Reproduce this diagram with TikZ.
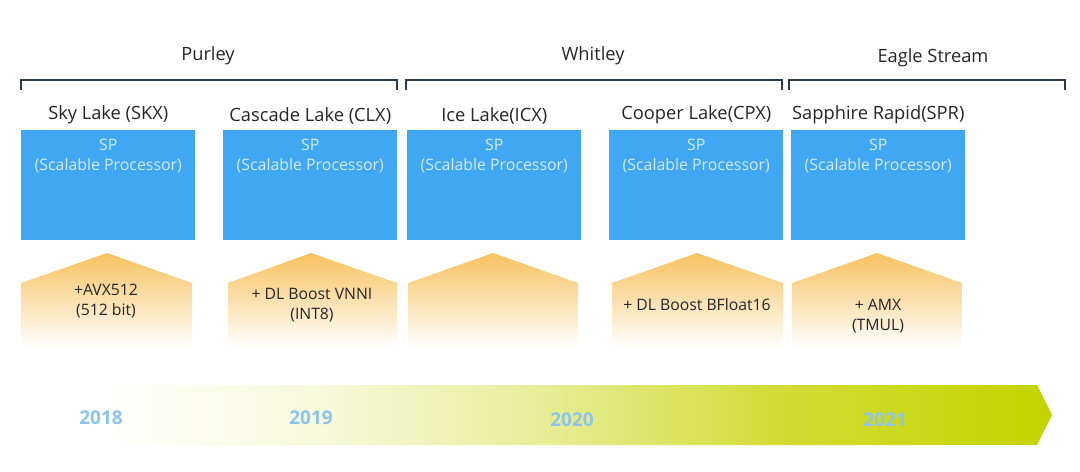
\documentclass[tikz,border=0pt]{standalone}
\usepackage{fontspec}
\setmainfont{Open Sans}
\usepackage{tikz}
\usetikzlibrary{positioning}
\usetikzlibrary{calc}
\definecolor{spblue}{RGB}{64,168,242}
\definecolor{sptxt}{RGB}{210,234,255}
\definecolor{brgray}{RGB}{45,58,72}
\definecolor{penta}{RGB}{248,194,96}
\definecolor{timegreen}{RGB}{197,211,0}
\definecolor{yearblue}{RGB}{140,196,240}
\pgfdeclarehorizontalshading{timeline}{100bp}{color(0bp)=(white); color(25bp)=(white);
   color(29bp)=(white); color(40bp)=(timegreen!15); color(50bp)=(timegreen!40);
   color(62bp)=(timegreen!80); color(75bp)=(timegreen); color(100bp)=(timegreen)}
\tikzset{bracket/.style={draw=brgray, line width=1.1pt}}
\tikzset{plat/.style={font=\fontsize{13}{15}\selectfont, text=black!85}}
\tikzset{cpu/.style={font=\fontsize{13}{15}\selectfont, text=black!85, inner sep=1pt}}
\tikzset{spbox/.style={fill=spblue, minimum width=4.35cm, minimum height=2.75cm, anchor=north west, inner sep=0pt}}
\tikzset{sptext/.style={font=\fontsize{11.3}{14.2}\selectfont, text=sptxt, align=center, inner sep=0pt}}
\tikzset{feat/.style={font=\fontsize{11.2}{14.5}\selectfont, text=black!85, align=center}}
\tikzset{year/.style={font=\bfseries\fontsize{13.5}{15}\selectfont, text=yearblue}}

\begin{document}
\begin{tikzpicture}[x=0.025cm, y=-0.025cm]
   \useasboundingbox (0,0) rectangle (1080,472);

   % platforms
   \coordinate (pa) at (21,90);   \coordinate (pb) at (397,90);
   \coordinate (wa) at (406,90);  \coordinate (wb) at (782,90);
   \coordinate (ea) at (789,90);  \coordinate (eb) at (1065,90);
   \draw[bracket] (pa) -- ++(0,-10) -| (pb);
   \draw[bracket] (wa) -- ++(0,-10) -| (wb);
   \draw[bracket] (ea) -- ++(0,-10) -| (eb);
   \node[plat] (purley) at (208,56) {Purley};
   \node[plat] (whitley) at (593,56) {Whitley};
   \node[plat] (eagle) at (933,58) {Eagle Stream};

   % processors
   \node[spbox] (b1) at (21,130) {};
   \node[spbox] (b2) at (223,130) {};
   \node[spbox] (b3) at (407,130) {};
   \node[spbox] (b4) at (609,130) {};
   \node[spbox] (b5) at (791,130) {};
   \node[cpu] (skx) [above=3pt of b1.north] {Sky Lake (SKX)};
   \node[cpu] (clx) [above=3pt of b2.north] {Cascade Lake (CLX)};
   \node[cpu] (icx) [above=3pt of b3.north] {Ice Lake(ICX)};
   \node[cpu] (cpx) [above=3pt of b4.north] {Cooper Lake(CPX)};
   \node[cpu] (spr) [above=3pt of b5.north] {Sapphire Rapid(SPR)};
   \node[sptext] (s1) [below=6pt of b1.north] {SP\\(Scalable Processor)};
   \node[sptext] (s2) [below=6pt of b2.north] {SP\\(Scalable Processor)};
   \node[sptext] (s3) [below=6pt of b3.north] {SP\\(Scalable Processor)};
   \node[sptext] (s4) [below=6pt of b4.north] {SP\\(Scalable Processor)};
   \node[sptext] (s5) [below=6pt of b5.north] {SP\\(Scalable Processor)};

   % new instructions
   \shade[top color=penta, middle color=penta!45, bottom color=white]
      (21,283) -- (107,253) -- (192,283) -- (192,348) -- (21,348) -- cycle;
   \shade[top color=penta, middle color=penta!45, bottom color=white]
      (228,283) -- (311,253) -- (397,283) -- (397,348) -- (228,348) -- cycle;
   \shade[top color=penta, middle color=penta!45, bottom color=white]
      (408,283) -- (493,253) -- (578,283) -- (578,348) -- (408,348) -- cycle;
   \shade[top color=penta, middle color=penta!45, bottom color=white]
      (612,283) -- (697,253) -- (783,283) -- (783,348) -- (612,348) -- cycle;
   \shade[top color=penta, middle color=penta!45, bottom color=white]
      (792,283) -- (877,253) -- (962,283) -- (962,348) -- (792,348) -- cycle;
   \node[feat] (avx) at (106,301) {+AVX512\\(512 bit)};
   \node[feat] (vnni) at (312,305) {+ DL Boost VNNI\\(INT8)};
   \node[feat] (bf16) at (697,305) {+ DL Boost BFloat16};
   \node[feat] (amx) at (878,316) {+ AMX\\(TMUL)};

   % timeline
   \shade[shading=timeline]
      (20,385) -- (1037,385) -- (1052,415) -- (1037,445) -- (20,445) -- cycle;
   \node[year] (y18) at (101,418) {2018};
   \node[year] (y19) at (311,418) {2019};
   \node[year] (y20) at (572,420) {2020};
   \node[year] (y21) at (885,420) {2021};
\end{tikzpicture}
\end{document}
